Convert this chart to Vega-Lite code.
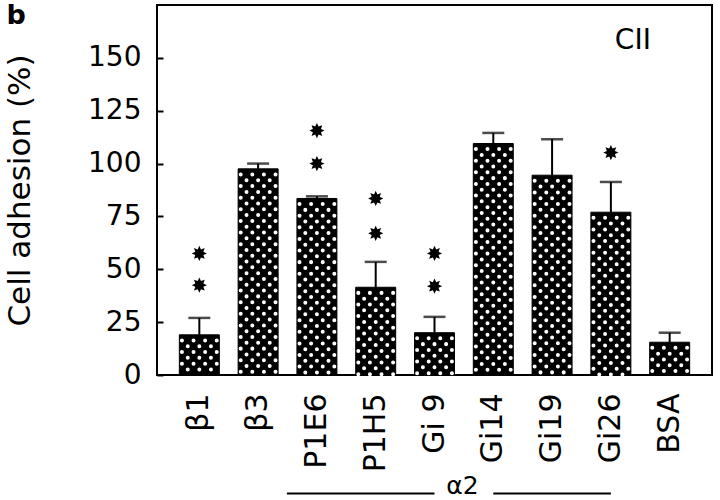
{
  "$schema": "https://vega.github.io/schema/vega-lite/v6.json",
  "width": 555,
  "height": 370,
  "autosize": {"type": "none"},
  "padding": {"left": 157, "top": 5, "right": 8, "bottom": 125},
  "background": "white",
  "title": {"text": "b", "anchor": "start", "frame": "bounds", "font": "DejaVu Sans", "fontSize": 27, "fontWeight": "bold", "color": "black", "baseline": "alphabetic", "offset": 0, "dy": 46, "dx": 2},
  "config": {"view": {"stroke": "black", "strokeWidth": 2}, "font": "DejaVu Sans"},
  "datasets": {
    "bars": [
      {"cat": "β1", "value": 19, "upper": 27},
      {"cat": "β3", "value": 97.5, "upper": 100},
      {"cat": "P1E6", "value": 83.5, "upper": 84.5},
      {"cat": "P1H5", "value": 41.5, "upper": 53.5},
      {"cat": "Gi 9", "value": 20, "upper": 27.5},
      {"cat": "Gi14", "value": 109.5, "upper": 114.5},
      {"cat": "Gi19", "value": 94.5, "upper": 111.5},
      {"cat": "Gi26", "value": 77, "upper": 91.3},
      {"cat": "BSA", "value": 15.5, "upper": 20}
    ],
    "stars": [
      {"cat": "β1", "y": 57.5},
      {"cat": "β1", "y": 42.5},
      {"cat": "P1E6", "y": 115.6},
      {"cat": "P1E6", "y": 100},
      {"cat": "P1H5", "y": 83.5},
      {"cat": "P1H5", "y": 67},
      {"cat": "Gi 9", "y": 57.5},
      {"cat": "Gi 9", "y": 42},
      {"cat": "Gi26", "y": 105.2}
    ]
  },
  "layer": [
    {
      "data": {"name": "bars"},
      "mark": {"type": "bar", "fill": "black", "stroke": "black", "strokeWidth": 1},
      "encoding": {
        "x": {"field": "cat", "type": "nominal", "sort": null,
          "scale": {"domain": ["β1", "β3", "P1E6", "P1H5", "Gi 9", "Gi14", "Gi19", "Gi26", "BSA"], "paddingInner": 0.32, "paddingOuter": 0.38},
          "axis": {"title": null, "ticks": false, "domain": false, "labelAngle": -90, "labelFont": "DejaVu Sans", "labelFontSize": 30, "labelColor": "black", "labelPadding": 18}},
        "y": {"field": "value", "type": "quantitative",
          "scale": {"domain": [0, 175], "nice": false},
          "axis": {"title": "Cell adhesion (%)", "values": [0, 12.5, 25, 37.5, 50, 62.5, 75, 87.5, 100, 112.5, 125, 137.5, 150],
            "labelExpr": "datum.value % 25 == 0 ? datum.label : ''", "grid": false, "domain": false,
            "tickSize": -6, "tickWidth": 2, "tickColor": "black", "labelFont": "DejaVu Sans", "labelFontSize": 28, "labelColor": "black", "labelPadding": 22,
            "titleFont": "DejaVu Sans", "titleFontSize": 31, "titleFontWeight": "normal", "titleColor": "black", "titlePadding": 51}}
      }
    },
    {"data": {"name": "bars"}, "mark": {"type": "rule", "color": "white", "strokeWidth": 4, "strokeCap": "round", "strokeDash": [0.01, 11.6], "strokeDashOffset": 9, "xOffset": -17.4, "yOffset": 3},
      "encoding": {"x": {"field": "cat", "type": "nominal", "sort": null}, "y": {"field": "value", "type": "quantitative"}, "y2": {"datum": 0}}},
    {"data": {"name": "bars"}, "mark": {"type": "rule", "color": "white", "strokeWidth": 4, "strokeCap": "round", "strokeDash": [0.01, 11.6], "strokeDashOffset": 3.2, "xOffset": -11.6, "yOffset": 3},
      "encoding": {"x": {"field": "cat", "type": "nominal", "sort": null}, "y": {"field": "value", "type": "quantitative"}, "y2": {"datum": 0}}},
    {"data": {"name": "bars"}, "mark": {"type": "rule", "color": "white", "strokeWidth": 4, "strokeCap": "round", "strokeDash": [0.01, 11.6], "strokeDashOffset": 9, "xOffset": -5.8, "yOffset": 3},
      "encoding": {"x": {"field": "cat", "type": "nominal", "sort": null}, "y": {"field": "value", "type": "quantitative"}, "y2": {"datum": 0}}},
    {"data": {"name": "bars"}, "mark": {"type": "rule", "color": "white", "strokeWidth": 4, "strokeCap": "round", "strokeDash": [0.01, 11.6], "strokeDashOffset": 3.2, "xOffset": 0, "yOffset": 3},
      "encoding": {"x": {"field": "cat", "type": "nominal", "sort": null}, "y": {"field": "value", "type": "quantitative"}, "y2": {"datum": 0}}},
    {"data": {"name": "bars"}, "mark": {"type": "rule", "color": "white", "strokeWidth": 4, "strokeCap": "round", "strokeDash": [0.01, 11.6], "strokeDashOffset": 9, "xOffset": 5.8, "yOffset": 3},
      "encoding": {"x": {"field": "cat", "type": "nominal", "sort": null}, "y": {"field": "value", "type": "quantitative"}, "y2": {"datum": 0}}},
    {"data": {"name": "bars"}, "mark": {"type": "rule", "color": "white", "strokeWidth": 4, "strokeCap": "round", "strokeDash": [0.01, 11.6], "strokeDashOffset": 3.2, "xOffset": 11.6, "yOffset": 3},
      "encoding": {"x": {"field": "cat", "type": "nominal", "sort": null}, "y": {"field": "value", "type": "quantitative"}, "y2": {"datum": 0}}},
    {"data": {"name": "bars"}, "mark": {"type": "rule", "color": "white", "strokeWidth": 4, "strokeCap": "round", "strokeDash": [0.01, 11.6], "strokeDashOffset": 9, "xOffset": 17.4, "yOffset": 3},
      "encoding": {"x": {"field": "cat", "type": "nominal", "sort": null}, "y": {"field": "value", "type": "quantitative"}, "y2": {"datum": 0}}},
    {"data": {"name": "bars"}, "mark": {"type": "rule", "color": "black", "strokeWidth": 2},
      "encoding": {"x": {"field": "cat", "type": "nominal", "sort": null}, "y": {"field": "value", "type": "quantitative"}, "y2": {"field": "upper"}}},
    {"data": {"name": "bars"}, "mark": {"type": "tick", "color": "black", "size": 22, "thickness": 2.5, "orient": "horizontal"},
      "encoding": {"x": {"field": "cat", "type": "nominal", "sort": null}, "y": {"field": "upper", "type": "quantitative"}}},
    {"data": {"name": "stars"}, "mark": {"type": "point", "filled": true, "color": "black", "opacity": 1, "size": 230,
        "shape": "M0,-1L0.22,-0.53L0.707,-0.707L0.53,-0.22L1,0L0.53,0.22L0.707,0.707L0.22,0.53L0,1L-0.22,0.53L-0.707,0.707L-0.53,0.22L-1,0L-0.53,-0.22L-0.707,-0.707L-0.22,-0.53Z"},
      "encoding": {"x": {"field": "cat", "type": "nominal", "sort": null}, "y": {"field": "y", "type": "quantitative"}}},
    {"data": {"values": [{"label": "CII", "cat": "Gi26"}]}, "mark": {"type": "text", "font": "DejaVu Sans", "fontSize": 28, "color": "black", "align": "center", "baseline": "alphabetic"},
      "encoding": {"x": {"field": "cat", "type": "nominal", "bandPosition": 1.05}, "y": {"datum": 154, "type": "quantitative"}, "text": {"field": "label"}}},
    {"data": {"values": [{"from": "P1E6", "to": "Gi 9"}]}, "mark": {"type": "rule", "color": "black", "strokeWidth": 2, "clip": false},
      "encoding": {"x": {"field": "from", "type": "nominal", "bandPosition": -0.25}, "x2": {"field": "to"}, "y": {"datum": -56, "type": "quantitative"}}},
    {"data": {"values": [{"from": "Gi14", "to": "Gi26"}]}, "mark": {"type": "rule", "color": "black", "strokeWidth": 2, "clip": false},
      "encoding": {"x": {"field": "from", "type": "nominal", "bandPosition": 0.5}, "x2": {"field": "to"}, "y": {"datum": -56, "type": "quantitative"}}},
    {"data": {"values": [{"label": "α2", "cat": "Gi 9"}]}, "mark": {"type": "text", "font": "DejaVu Sans", "fontSize": 25, "color": "black", "align": "center", "baseline": "alphabetic", "clip": false},
      "encoding": {"x": {"field": "cat", "type": "nominal", "bandPosition": 1.2}, "y": {"datum": -56.3, "type": "quantitative"}, "text": {"field": "label"}}}
  ]
}
